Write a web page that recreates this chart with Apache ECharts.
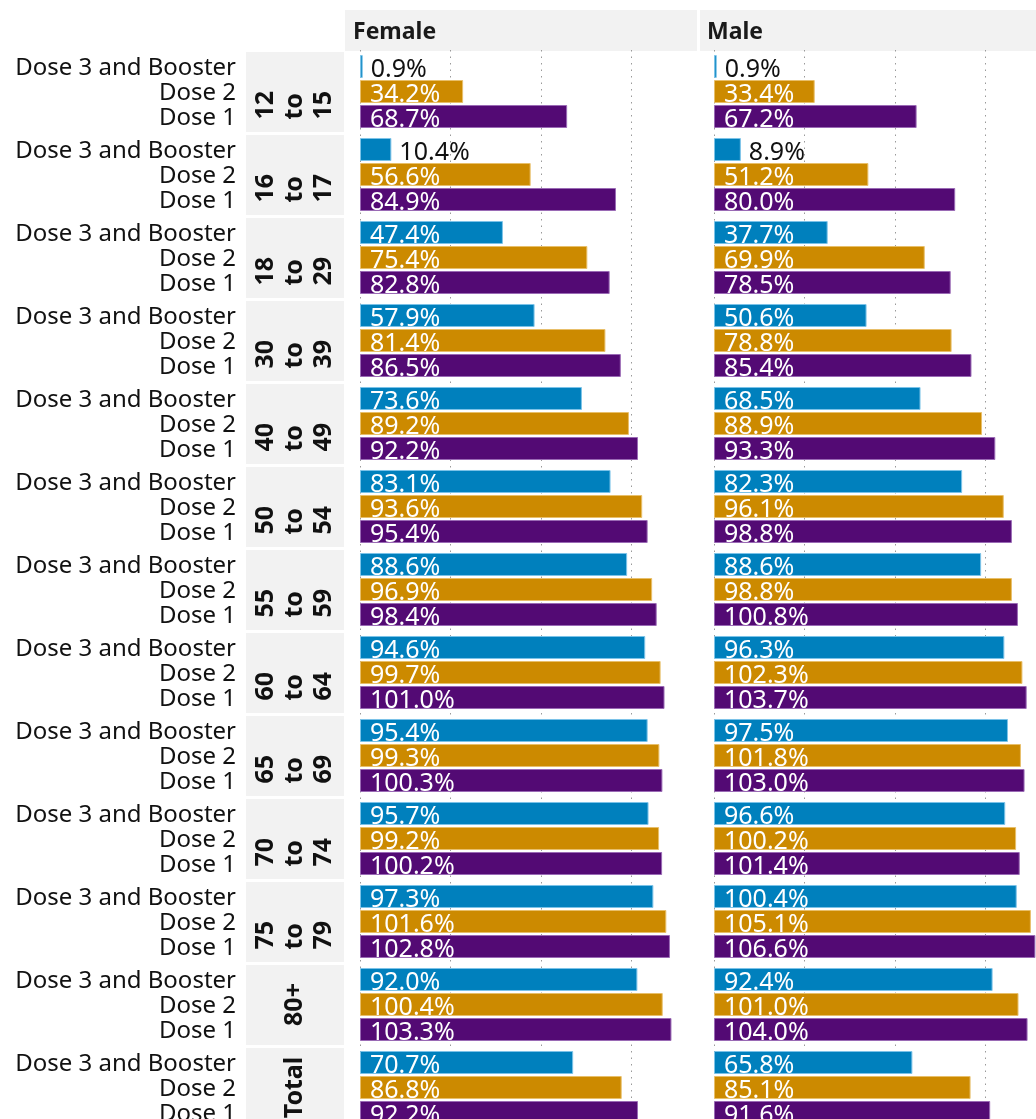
<!DOCTYPE html>
<html><head><meta charset="utf-8">
<script src="https://cdn.jsdelivr.net/npm/echarts@6/dist/echarts.min.js"></script>
<style>html,body{margin:0;padding:0;background:#fff}#c{width:1036px;height:1119px}</style>
</head><body><div id="c"></div><script>
// ---- data ----
const groups = ['12 to 15','16 to 17','18 to 29','30 to 39','40 to 49','50 to 54','55 to 59','60 to 64','65 to 69','70 to 74','75 to 79','80+','Total'];
const doses = ['Dose 3 and Booster','Dose 2','Dose 1'];
const panels = ['Female','Male'];
const femaleDose3 = [0.9,10.4,47.4,57.9,73.6,83.1,88.6,94.6,95.4,95.7,97.3,92.0,70.7];
const femaleDose2 = [34.2,56.6,75.4,81.4,89.2,93.6,96.9,99.7,99.3,99.2,101.6,100.4,86.8];
const femaleDose1 = [68.7,84.9,82.8,86.5,92.2,95.4,98.4,101.0,100.3,100.2,102.8,103.3,92.2];
const maleDose3 = [0.9,8.9,37.7,50.6,68.5,82.3,88.6,96.3,97.5,96.6,100.4,92.4,65.8];
const maleDose2 = [33.4,51.2,69.9,78.8,88.9,96.1,98.8,102.3,101.8,100.2,105.1,101.0,85.1];
const maleDose1 = [67.2,80.0,78.5,85.4,93.3,98.8,100.8,103.7,103.0,101.4,106.6,104.0,91.6];
const gridTicks = [0,30,60,90];

// ---- styling ----
const panelData = [[femaleDose3,femaleDose2,femaleDose1],[maleDose3,maleDose2,maleDose1]];
const colors = ['#0080BD','#CC8A00','#530A74'];
const borders = ['#7cc3e8','#e8bf6a','#9a6ab5'];
const FONT = '"Noto Sans", "DejaVu Sans", sans-serif';
const TOP = 52, BAND = 83, H = BAND * groups.length;
const PX = 3.015, AXMAX = 112;
const panelLeft = [360, 714];

const chart = echarts.init(document.getElementById('c'), null, {renderer:'canvas'});

const grids = [{left:246, top:TOP, width:98, height:H, outerBoundsMode:'none', containLabel:false}];
const xAxes = [{gridIndex:0, type:'value', min:0, max:1, show:false}];
const yAxes = [{gridIndex:0, type:'category', data:groups, inverse:true,
  axisLine:{show:false}, axisTick:{show:false}, splitLine:{show:false},
  axisLabel:{show:true, margin:10, formatter:()=>doses.join('\n'), color:'#111',
    fontFamily:FONT, fontSize:24, lineHeight:25, align:'right'}}];
const series = [{
  type:'custom', xAxisIndex:0, yAxisIndex:0, silent:true,
  data: groups.map((g,i)=>[0,i]),
  renderItem(params, api){
    const cs = params.coordSys;
    const cy = api.coord([0, api.value(1)])[1];
    const name = groups[api.value(1)];
    const multi = name.indexOf(' to ') >= 0;
    const txt = multi ? name.split(' ').join('\n') : name;
    return {type:'group', children:[
      {type:'rect', shape:{x:cs.x, y:cy-BAND/2, width:cs.width, height:BAND-3}, style:{fill:'#f2f2f2'}},
      {type:'text', x:cs.x+cs.width/2, y: multi ? cy+26 : cy-2, rotation:Math.PI/2,
        style:{text:txt, fill:'#111', font:'bold 25px '+FONT, lineHeight:29,
          align: multi ? 'left' : 'center', verticalAlign:'middle'}}
    ]};
  }
}];

panels.forEach((p, pi) => {
  const gi = pi + 1;
  grids.push({left:panelLeft[pi], top:TOP-2, width:AXMAX*PX, height:H, outerBoundsMode:'none', containLabel:false});
  xAxes.push({gridIndex:gi, type:'value', min:0, max:AXMAX, interval:30,
    axisLabel:{show:false}, axisLine:{show:false}, axisTick:{show:false},
    splitLine:{show:true, showMinLine:true, showMaxLine:false,
      lineStyle:{type:[1.5,5], color:'#9a9a9a', width:1}}});
  yAxes.push({gridIndex:gi, type:'category', data:groups, inverse:true, show:false});
  doses.forEach((d, di) => {
    series.push({
      type:'bar', name:d, xAxisIndex:gi, yAxisIndex:gi,
      barWidth:23, barGap:'8.7%', silent:true,
      itemStyle:{color:colors[di], borderColor:borders[di], borderWidth:1},
      label:{show:true, position:'insideLeft', distance:10, offset:[0,3], color:'#fff',
        fontFamily:FONT, fontSize:25, formatter:(o)=>o.value.toFixed(1)+'%'},
      data: panelData[pi][di].map(v => v < 20 ?
        {value:v, label:{position:'right', distance:8, color:'#111'}} : v)
    });
  });
});

const graphic = [
  {type:'rect', shape:{x:345, y:10, width:352, height:41}, style:{fill:'#f2f2f2'}, z:-1},
  {type:'rect', shape:{x:700, y:10, width:345, height:41}, style:{fill:'#f2f2f2'}, z:-1},
  {type:'text', x:353, y:32, style:{text:panels[0], font:'bold 23px '+FONT, fill:'#1a1a1a', verticalAlign:'middle'}},
  {type:'text', x:707, y:32, style:{text:panels[1], font:'bold 23px '+FONT, fill:'#1a1a1a', verticalAlign:'middle'}}
];

chart.setOption({animation:false, backgroundColor:'#fff', grid:grids, xAxis:xAxes, yAxis:yAxes, series, graphic});
</script></body></html>
